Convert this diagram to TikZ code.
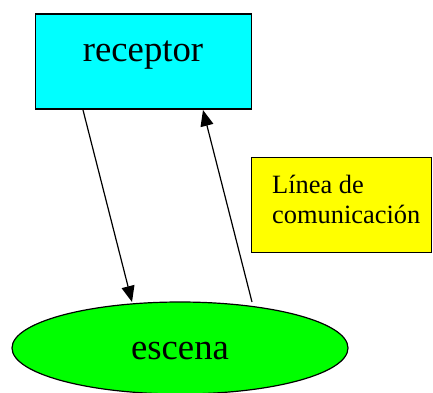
\documentclass[tikz,border=0pt]{standalone}
\usepackage{fontspec}
\setmainfont{Liberation Serif}
\usetikzlibrary{arrows.meta,shapes.geometric}
\begin{document}
\begin{tikzpicture}[x=1pt,y=-1pt,
  recbox/.style={draw=black,line width=1.8pt,fill={rgb,255:red,0;green,255;blue,255},minimum width=216pt,minimum height=95pt,inner sep=0pt},
  yelbox/.style={draw=black,line width=1.8pt,fill={rgb,255:red,255;green,255;blue,0},minimum width=180pt,minimum height=95pt,inner sep=0pt},
  ellnode/.style={ellipse,draw=black,line width=1.2pt,fill={rgb,255:red,0;green,255;blue,0},minimum width=336pt,minimum height=92pt,inner sep=0pt},
  bigtext/.style={font=\fontsize{36.7}{44}\selectfont,inner sep=0pt,anchor=base},
  smalltext/.style={font=\fontsize{26.4}{30}\selectfont,inner sep=0pt,align=left,anchor=base west},
  arr/.style={line width=1.2pt,-{Triangle[length=16pt,width=13pt]}}
]
\useasboundingbox (0,0) rectangle (433,392);
\node[recbox] (rec) at (143.5,61.5) {};
\node[bigtext] (rectxt) at (143,61) {receptor};
\node[yelbox] (yel) at (341.5,205) {};
\node[smalltext] (yeltxt) at (272,223) {Línea de\\comunicación};
\node[ellnode] (esc) at (180,348) {};
\node[bigtext] (esctxt) at (180,359) {escena};
\coordinate (a1s) at (83,110);
\coordinate (a1e) at (132,302);
\coordinate (a2s) at (252,302);
\coordinate (a2e) at (203,110);
\draw[arr] (a1s) -- (a1e);
\draw[arr] (a2s) -- (a2e);
\end{tikzpicture}
\end{document}
